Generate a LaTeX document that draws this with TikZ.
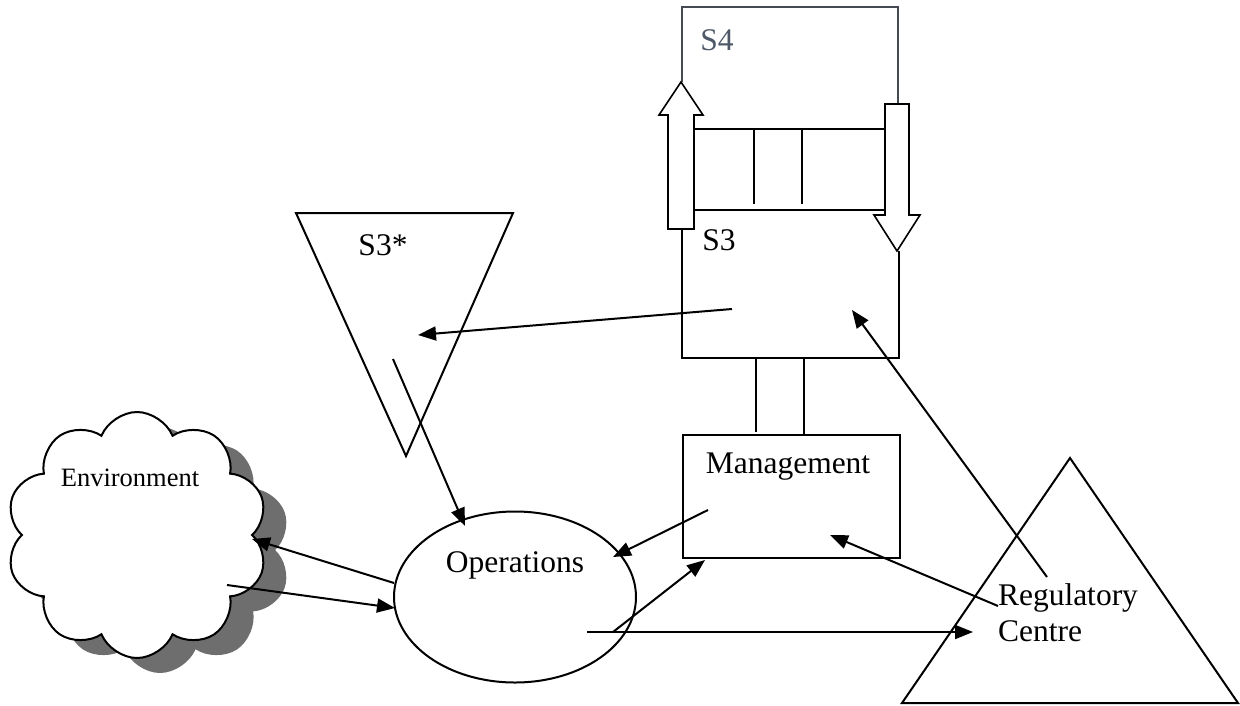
\documentclass[tikz,border=0pt]{standalone}
\usepackage{fontspec}
\setmainfont{Liberation Serif}
\usetikzlibrary{arrows.meta,shapes.geometric,shapes.symbols}
\definecolor{sfourtext}{RGB}{78,88,104}
\definecolor{sfourline}{RGB}{70,74,82}
\definecolor{cloudshade}{RGB}{110,110,110}
\begin{document}
\begin{tikzpicture}[x=1pt,y=-1pt,line width=2pt,line join=miter,
  lbl/.style={font=\fontsize{31.5}{36}\selectfont,inner sep=0pt},
  smalllbl/.style={font=\fontsize{26.5}{30}\selectfont,inner sep=0pt},
  link/.style={-{Triangle[length=18pt,width=14pt]}},
  puffy/.style={cloud,cloud puffs=10,cloud puff arc=135,aspect=1.05,
    minimum width=262pt,minimum height=246pt,inner sep=0pt},
  hollow/.style={draw,fill=white,line width=1.6pt}]
\useasboundingbox (0,0) rectangle (1240,705);

% ---- Environment cloud with its shadow
\node[puffy,fill=cloudshade] (envshade) at (160,550) {};
\node[puffy,draw,fill=white] (env) at (137,535) {};
\node[smalllbl] (envtxt) at (130,478) {Environment};

% ---- S4 / S3 block
\draw[sfourline] (682,82) -- (682,7) -- (898,7) -- (898,104);
\node[lbl,text=sfourtext] (s4txt) at (717,40) {S4};
\draw (693,129) -- (884,129);
\draw (693,210) -- (886,210);
\draw (754,129) -- (754,204);
\draw (802,129) -- (802,204);
% hollow arrows between S3 and S4
\draw[hollow] (668,229) -- (668,115) -- (659,115) -- (681,82) -- (703,115)
  -- (694,115) -- (694,229) -- cycle;
\draw[hollow] (885,104) -- (909,104) -- (909,215) -- (920,215) -- (897,251)
  -- (874,215) -- (885,215) -- cycle;
% S3 box
\draw (682,229) -- (682,358) -- (899,358) -- (899,251);
\node[lbl] (s3txt) at (719,240) {S3};

% ---- Management
\node[draw,rectangle,minimum width=217pt,minimum height=123pt,inner sep=0pt]
  (mgmt) at (791.5,496.5) {};
\node[lbl] (mgmttxt) at (788,467) {Management};
\draw (756,358) -- (756,432);
\draw (804,358) -- (804,435);

% ---- S3* triangle
\coordinate (sa) at (296,213);
\coordinate (sb) at (513,213);
\coordinate (sc) at (406,456);
\draw (sa) -- (sb) -- (sc) -- cycle;
\node[lbl] (s3startxt) at (383,245) {S3*};

% ---- Operations
\node[draw,ellipse,minimum width=242pt,minimum height=171pt,inner sep=0pt]
  (ops) at (515,597) {};
\node[lbl] (opstxt) at (515,565) {Operations};

% ---- Regulatory centre triangle
\coordinate (ra) at (1070,458);
\coordinate (rb) at (902,703);
\coordinate (rc) at (1238,703);
\draw (ra) -- (rb) -- (rc) -- cycle;
\node[lbl,align=left,anchor=north west] (regtxt) at (997,583)
  {Regulatory\\Centre};

% ---- connector end points
\coordinate (s3out) at (732,309);
\coordinate (s3in) at (852,310);
\coordinate (s3sin) at (418,335);
\coordinate (s3sout) at (393,359);
\coordinate (opsin) at (465,526);
\coordinate (mgout) at (708,510);
\coordinate (opsfb) at (613,557);
\coordinate (opsup) at (613,632);
\coordinate (mgin) at (705,560);
\coordinate (opsreg) at (587,632);
\coordinate (regin) at (973,632);
\coordinate (regmg) at (998,606);
\coordinate (mgreg) at (830,535);
\coordinate (regs3) at (1047,577);
\coordinate (opsenv) at (394,583);
\coordinate (envin) at (252,539);
\coordinate (envout) at (227,585);
\coordinate (opsleft) at (395,608);

% ---- connectors
\draw[link] (s3out) -- (s3sin);
\draw[link] (s3sout) -- (opsin);
\draw[link] (mgout) -- (opsfb);
\draw[link] (opsup) -- (mgin);
\draw[link] (opsreg) -- (regin);
\draw[link] (regmg) -- (mgreg);
\draw[link] (regs3) -- (s3in);
\draw[link] (opsenv) -- (envin);
\draw[link] (envout) -- (opsleft);
\end{tikzpicture}
\end{document}
